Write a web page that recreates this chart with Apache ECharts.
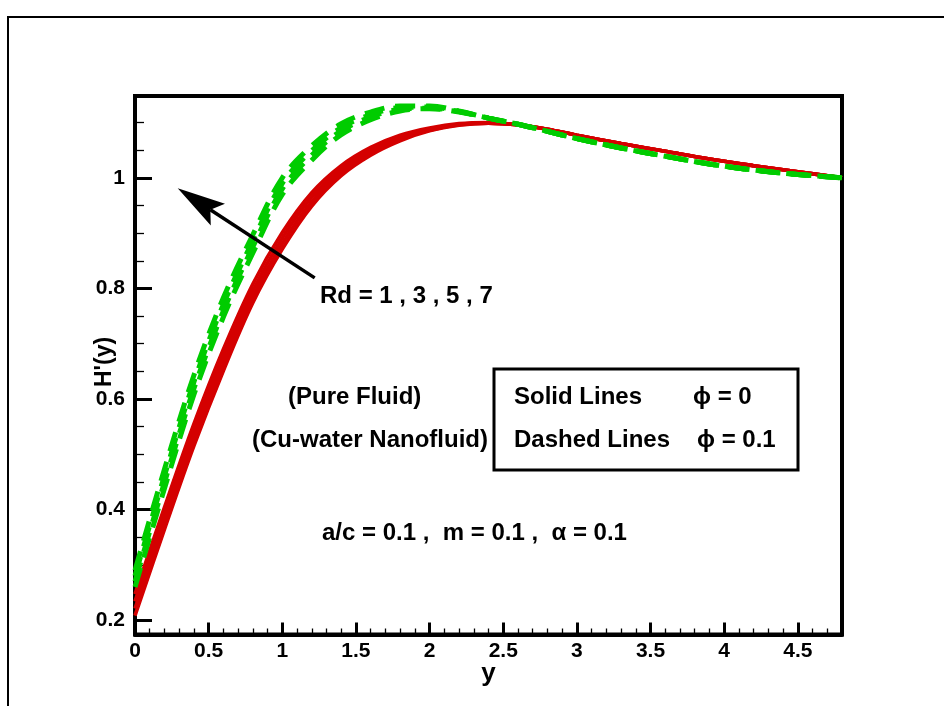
<!DOCTYPE html>
<html><head><meta charset="utf-8">
<script src="https://cdn.jsdelivr.net/npm/echarts@6/dist/echarts.min.js"></script>
<style>html,body{margin:0;padding:0;background:#fff}#c{width:944px;height:706px}</style>
</head><body><div id="c"></div>
<script>
// ---- data ----
const xValues = [0, 0.2, 0.4, 0.6, 0.8, 1.0, 1.2, 1.4, 1.6, 1.8, 2.0, 2.2, 2.4, 2.6, 2.8, 3.0, 3.3, 3.6, 3.9, 4.2, 4.5, 4.8];

// Pure fluid (phi = 0), solid red, Rd = 1, 3, 5, 7
const pureRd1 = [0.208, 0.364, 0.515, 0.651, 0.774, 0.871, 0.949, 1.004, 1.041, 1.067, 1.085, 1.095, 1.099, 1.096, 1.088, 1.077, 1.062, 1.048, 1.034, 1.022, 1.011, 1.000];
const pureRd3 = [0.221, 0.378, 0.528, 0.664, 0.785, 0.881, 0.957, 1.010, 1.046, 1.071, 1.086, 1.096, 1.099, 1.096, 1.088, 1.077, 1.062, 1.048, 1.034, 1.022, 1.011, 1.000];
const pureRd5 = [0.234, 0.391, 0.541, 0.677, 0.796, 0.891, 0.965, 1.016, 1.051, 1.074, 1.088, 1.097, 1.099, 1.096, 1.088, 1.077, 1.062, 1.048, 1.034, 1.022, 1.011, 1.000];
const pureRd7 = [0.247, 0.404, 0.555, 0.690, 0.808, 0.901, 0.973, 1.022, 1.055, 1.077, 1.090, 1.098, 1.100, 1.096, 1.088, 1.077, 1.062, 1.048, 1.034, 1.022, 1.011, 1.000];

// Cu-water nanofluid (phi = 0.1), dashed green, Rd = 1, 3, 5, 7
const nanoRd1 = [0.260, 0.438, 0.608, 0.748, 0.864, 0.970, 1.032, 1.078, 1.105, 1.121, 1.125, 1.119, 1.108, 1.097, 1.084, 1.071, 1.054, 1.039, 1.025, 1.014, 1.006, 1.000];
const nanoRd3 = [0.270, 0.449, 0.619, 0.759, 0.875, 0.980, 1.041, 1.085, 1.110, 1.124, 1.126, 1.120, 1.108, 1.097, 1.084, 1.071, 1.054, 1.039, 1.025, 1.014, 1.006, 1.000];
const nanoRd5 = [0.280, 0.461, 0.631, 0.771, 0.886, 0.990, 1.049, 1.091, 1.114, 1.127, 1.128, 1.120, 1.108, 1.097, 1.084, 1.071, 1.054, 1.039, 1.025, 1.014, 1.006, 1.000];
const nanoRd7 = [0.290, 0.473, 0.643, 0.783, 0.897, 1.000, 1.058, 1.098, 1.119, 1.130, 1.130, 1.121, 1.108, 1.097, 1.084, 1.071, 1.054, 1.039, 1.025, 1.014, 1.006, 1.000];

const xMajorTicks = [0, 0.5, 1, 1.5, 2, 2.5, 3, 3.5, 4, 4.5];
const xMinorTicks = [0.1, 0.2, 0.3, 0.4, 0.6, 0.7, 0.8, 0.9, 1.1, 1.2, 1.3, 1.4, 1.6, 1.7, 1.8, 1.9, 2.1, 2.2, 2.3, 2.4, 2.6, 2.7, 2.8, 2.9, 3.1, 3.2, 3.3, 3.4, 3.6, 3.7, 3.8, 3.9, 4.1, 4.2, 4.3, 4.4, 4.6, 4.7];
const yMajorTicks = [0.2, 0.4, 0.6, 0.8, 1];
const yMinorTicks = [0.25, 0.3, 0.35, 0.45, 0.5, 0.55, 0.65, 0.7, 0.75, 0.85, 0.9, 0.95, 1.05, 1.1];

const arrowFrom = [1.22, 0.819];
const arrowTo = [0.29, 0.981];

// ---- chart ----
const FONT = '"Liberation Sans", Arial, Helvetica, sans-serif';
const chart = echarts.init(document.getElementById('c'), null, {renderer: 'canvas'});

function pairs(ys) { return xValues.map((x, i) => [x, ys[i]]); }

const RED = '#d40000', GREEN = '#00cc00';
function pureSeries(name, ys) {
  return {name, type: 'line', xAxisIndex: 0, yAxisIndex: 0, data: pairs(ys), smooth: 0.35, showSymbol: false,
    symbol: 'none', lineStyle: {color: RED, width: 3.6, type: 'solid'}, silent: true, z: 3};
}
function nanoSeries(name, ys) {
  return {name, type: 'line', xAxisIndex: 0, yAxisIndex: 0, data: pairs(ys), smooth: 0.35, showSymbol: false,
    symbol: 'none', lineStyle: {color: GREEN, width: 5, type: [20, 11], cap: 'butt'}, silent: true, z: 4};
}

const labelStyle = {fontFamily: FONT, fontWeight: 'bold', fontSize: 21, color: '#000'};

chart.setOption({
  animation: false,
  backgroundColor: '#fff',
  grid: {left: 135, top: 96, width: 707, height: 538.5, show: true, borderColor: '#000', borderWidth: 4, backgroundColor: 'transparent'},
  xAxis: [
    {type: 'value', min: 0, max: 4.8, position: 'bottom',
      axisLine: {show: true, onZero: false, lineStyle: {color: '#000', width: 4}},
      axisTick: {show: true, inside: true, length: 12, customValues: xMajorTicks, lineStyle: {color: '#000', width: 3}},
      axisLabel: Object.assign({show: true, margin: 6, customValues: xMajorTicks}, labelStyle),
      splitLine: {show: false},
      name: 'y', nameLocation: 'middle', nameGap: 26, nameMoveOverlap: false,
      nameTextStyle: {fontFamily: FONT, fontWeight: 'bold', fontSize: 26, color: '#000'}},
    {type: 'value', min: 0, max: 4.8, position: 'bottom',
      axisLine: {show: false, onZero: false},
      axisTick: {show: true, inside: true, length: 6, customValues: xMinorTicks, lineStyle: {color: '#000', width: 1.3}},
      axisLabel: {show: false}, splitLine: {show: false}}
  ],
  yAxis: [
    {type: 'value', min: 0.174, max: 1.148, position: 'left',
      axisLine: {show: true, onZero: false, lineStyle: {color: '#000', width: 4}},
      axisTick: {show: true, inside: true, length: 17, customValues: yMajorTicks, lineStyle: {color: '#000', width: 3}},
      axisLabel: Object.assign({show: true, margin: 10, customValues: yMajorTicks}, labelStyle),
      splitLine: {show: false}},
    {type: 'value', min: 0.174, max: 1.148, position: 'left',
      axisLine: {show: false, onZero: false},
      axisTick: {show: true, inside: true, length: 9, customValues: yMinorTicks, lineStyle: {color: '#000', width: 1.3}},
      axisLabel: {show: false}, splitLine: {show: false}}
  ],
  series: [
    pureSeries('Pure Rd=1', pureRd1), pureSeries('Pure Rd=3', pureRd3),
    pureSeries('Pure Rd=5', pureRd5), pureSeries('Pure Rd=7', pureRd7),
    nanoSeries('Nano Rd=1', nanoRd1), nanoSeries('Nano Rd=3', nanoRd3),
    nanoSeries('Nano Rd=5', nanoRd5), nanoSeries('Nano Rd=7', nanoRd7)
  ]
});

// ---- annotations ----
const p0 = chart.convertToPixel({gridIndex: 0}, arrowFrom);
const p1 = chart.convertToPixel({gridIndex: 0}, arrowTo);
const dx = p1[0] - p0[0], dy = p1[1] - p0[1];
const L = Math.sqrt(dx * dx + dy * dy);
const ux = dx / L, uy = dy / L, nx = -uy, ny = ux;
const headLen = 48, headHalf = 13, notch = 9;
const base = [p1[0] - ux * headLen, p1[1] - uy * headLen];
const notchPt = [p1[0] - ux * (headLen - notch), p1[1] - uy * (headLen - notch)];

const TF = 'bold 24px ' + FONT;
function txt(text, x, y) {
  return {type: 'text', silent: true, z: 10, style: {text, x, y, fill: '#000', font: TF, align: 'left', verticalAlign: 'middle'}};
}

chart.setOption({
  graphic: [
    {type: 'rect', silent: true, z: 1, shape: {x: 8, y: 17, width: 1000, height: 1000}, style: {fill: 'none', stroke: '#000', lineWidth: 2}},
    {type: 'text', silent: true, z: 10, x: 105, y: 362, rotation: Math.PI / 2,
      style: {text: "H'(y)", x: 0, y: 0, fill: '#000', font: 'bold 23px ' + FONT, align: 'center', verticalAlign: 'middle'}},
    {type: 'line', silent: true, z: 10, shape: {x1: p0[0], y1: p0[1], x2: notchPt[0], y2: notchPt[1]}, style: {stroke: '#000', lineWidth: 3.5}},
    {type: 'polygon', silent: true, z: 10, shape: {points: [
      [p1[0], p1[1]],
      [base[0] + nx * headHalf, base[1] + ny * headHalf],
      notchPt,
      [base[0] - nx * headHalf, base[1] - ny * headHalf]
    ]}, style: {fill: '#000'}},
    txt('Rd = 1 , 3 , 5 , 7', 320, 296),
    txt('(Pure Fluid)', 288, 397),
    txt('(Cu-water Nanofluid)', 252, 440),
    {type: 'rect', silent: true, z: 10, shape: {x: 494, y: 369, width: 304, height: 101}, style: {fill: 'none', stroke: '#000', lineWidth: 3}},
    txt('Solid Lines', 514, 397),
    txt('\u03D5 = 0', 693, 397),
    txt('Dashed Lines', 514, 440),
    txt('\u03D5 = 0.1', 697, 440),
    txt('a/c = 0.1 ,  m = 0.1 ,  \u03B1 = 0.1', 322, 533)
  ]
});
</script>
</body></html>
